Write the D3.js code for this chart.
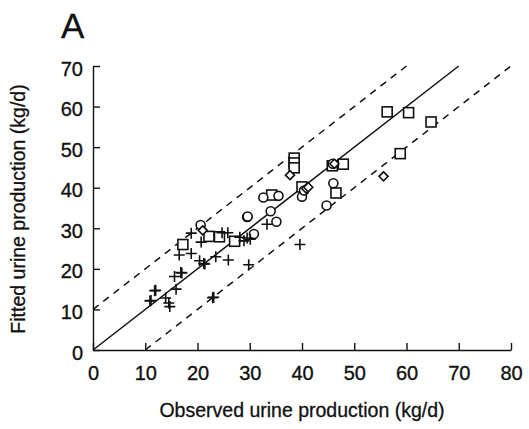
<!DOCTYPE html>
<html><head><meta charset="utf-8">
<script src="https://cdn.jsdelivr.net/npm/d3@7"></script>
<style>body{margin:0;background:#fff}svg{display:block}text{font-family:"Liberation Sans",Arial,sans-serif;fill:#111}</style>
</head><body>
<script>
const xTicks = [0,10,20,30,40,50,60,70,80];
const yTicks = [0,10,20,30,40,50,60,70];
const squares = [[17.2,26.0],[22.2,28.0],[24.2,27.9],[27.1,26.8],[34.2,38.2],[38.5,47.3],[38.5,46.1],[38.5,44.9],[40.0,40.2],[45.8,45.4],[47.9,45.8],[46.5,38.7],[56.3,58.7],[60.4,58.5],[64.7,56.2],[58.8,48.4]];
const circles = [[20.6,30.8],[29.5,32.8],[29.6,32.9],[30.8,28.6],[32.6,37.6],[35.5,38.0],[34.0,34.2],[35.1,31.6],[40.0,37.8],[40.4,39.3],[44.7,35.6],[46.0,41.1],[45.9,45.9]];
const diamonds = [[21.0,29.5],[37.7,43.1],[40.8,39.8],[41.2,40.1],[55.6,42.8],[46.2,45.9]];
const pluses = [[10.9,12.1],[11.1,12.2],[11.8,14.6],[12.0,14.7],[13.9,12.8],[14.5,11.6],[14.7,10.7],[15.6,18.1],[15.9,15.0],[16.8,19.1],[17.0,19.0],[16.5,23.4],[18.8,23.8],[18.8,28.8],[20.7,26.6],[20.4,22.0],[21.2,21.3],[21.4,21.2],[22.9,12.9],[23.1,13.0],[23.5,23.0],[25.9,22.2],[24.7,28.9],[25.8,28.9],[28.1,27.8],[28.9,26.9],[29.5,27.6],[30.1,27.3],[29.8,21.0],[33.3,31.0],[39.6,26.0]];
const refLines = [{x1:0,y1:0,x2:70,y2:70,dash:null},{x1:0,y1:10,x2:60,y2:70,dash:"7,6"},{x1:10,y1:0,x2:80,y2:70,dash:"7,6"}];

const W=529,H=429;
const svg=d3.select("body").append("svg").attr("width",W).attr("height",H);
const x=d3.scaleLinear().domain([0,80]).range([93,511]);
const y=d3.scaleLinear().domain([0,70]).range([350,66]);

const gx=svg.append("g").attr("transform","translate(0,350)")
  .call(d3.axisBottom(x).tickValues(xTicks).tickSizeInner(-7).tickSizeOuter(0).tickPadding(15));
const gy=svg.append("g").attr("transform","translate(93,0)")
  .call(d3.axisLeft(y).tickValues(yTicks).tickSizeInner(-7).tickSizeOuter(0).tickPadding(10));
[gx,gy].forEach(g=>{g.select(".domain").attr("stroke","#111").attr("stroke-width",1.4);
  g.selectAll(".tick line").attr("stroke","#111").attr("stroke-width",1.4);
  g.selectAll(".tick text").attr("font-size",20).attr("fill","#111").attr("stroke","#111").attr("stroke-width",0.35)
   .attr("font-family","Liberation Sans, Arial, sans-serif");});
gy.selectAll(".tick text").attr("dy","0.45em");
gx.selectAll(".tick text").attr("dy","0.75em");

svg.append("g").selectAll("line").data(refLines).join("line")
  .attr("x1",d=>x(d.x1)).attr("y1",d=>y(d.y1)).attr("x2",d=>x(d.x2)).attr("y2",d=>y(d.y2))
  .attr("stroke","#111").attr("stroke-width",1.5).attr("stroke-dasharray",d=>d.dash);

const mk=svg.append("g").attr("fill","none").attr("stroke","#111").attr("stroke-width",1.6);
mk.selectAll(".sq").data(squares).join("rect").attr("class","sq")
  .attr("x",d=>x(d[0])-5).attr("y",d=>y(d[1])-5).attr("width",10).attr("height",10).attr("fill","#fff");
mk.selectAll(".ci").data(circles).join("circle").attr("class","ci")
  .attr("cx",d=>x(d[0])).attr("cy",d=>y(d[1])).attr("r",4.5).attr("fill","#fff");
mk.selectAll(".di").data(diamonds).join("path").attr("class","di")
  .attr("d",d=>{const cx=x(d[0]),cy=y(d[1]),s=4.5;return `M${cx},${cy-s}L${cx+s},${cy}L${cx},${cy+s}L${cx-s},${cy}Z`;}).attr("fill","#fff");
mk.selectAll(".pl").data(pluses).join("path").attr("class","pl")
  .attr("d",d=>{const cx=x(d[0]),cy=y(d[1]),s=5.5;return `M${cx-s},${cy}H${cx+s}M${cx},${cy-s}V${cy+s}`;});

const tt=svg.append("g").attr("stroke","#111").attr("stroke-width",0.3);
tt.append("text").attr("x",302).attr("y",417).attr("text-anchor","middle").attr("font-size",19.5).text("Observed urine production (kg/d)");
tt.append("text").attr("transform","translate(25,209) rotate(-90)").attr("text-anchor","middle").attr("font-size",19.5).text("Fitted urine production (kg/d)");
tt.append("text").attr("x",61).attr("y",38).attr("font-size",35).text("A");
</script>
</body></html>
